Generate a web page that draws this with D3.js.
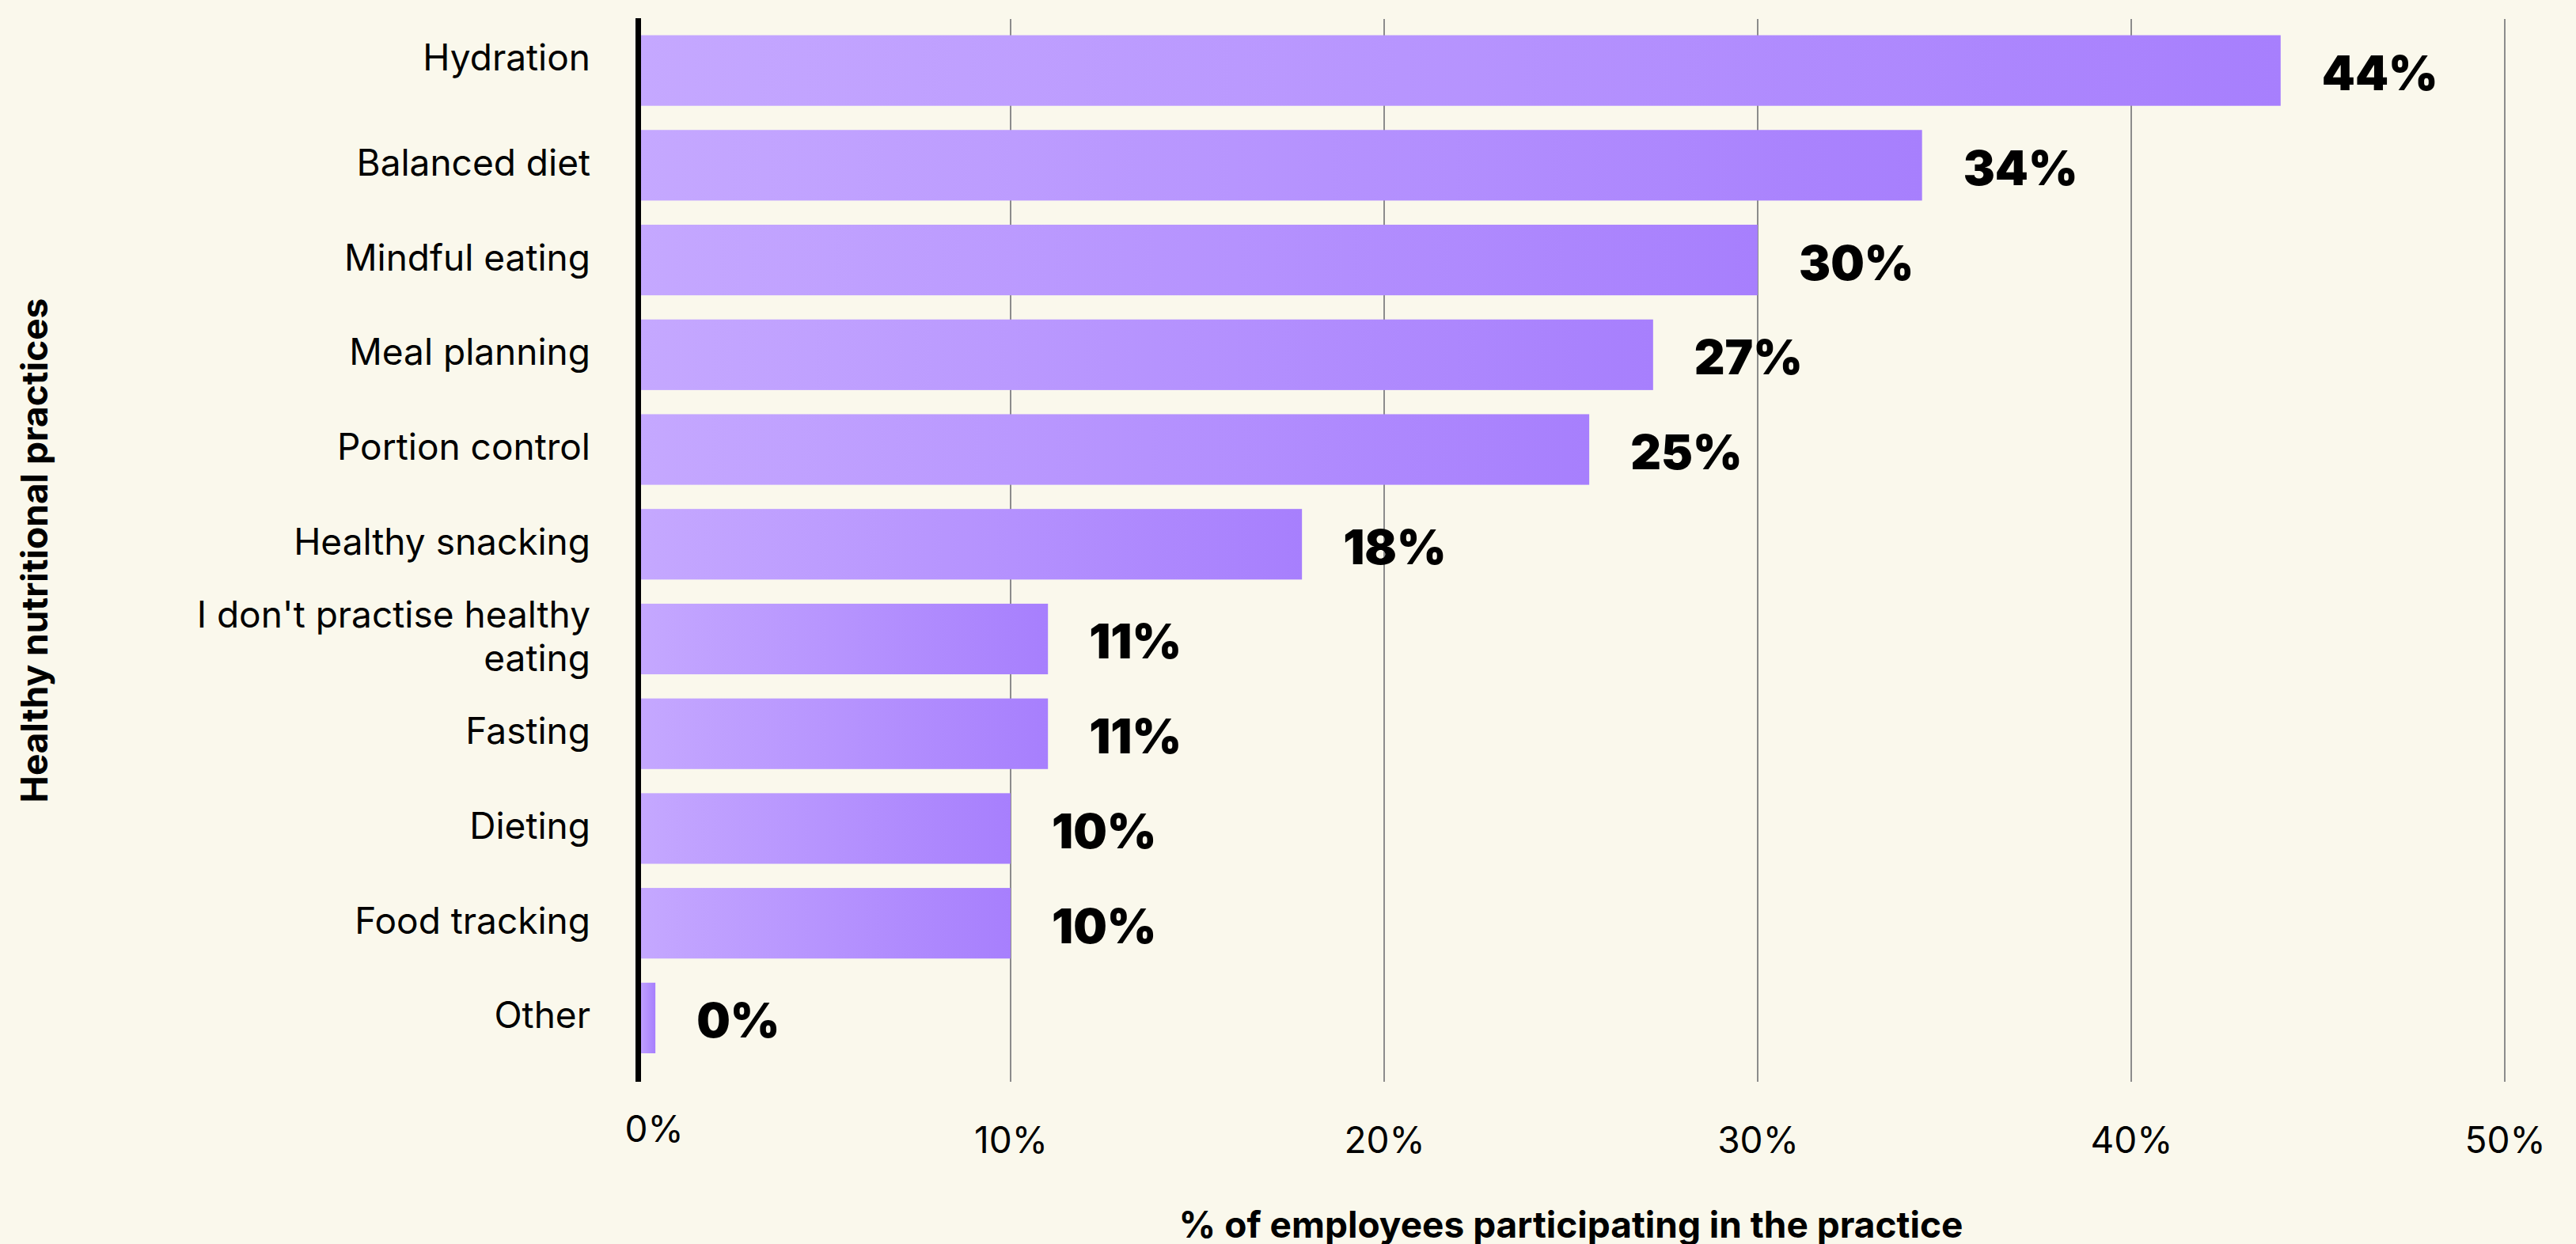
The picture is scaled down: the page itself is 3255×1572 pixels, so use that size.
<!DOCTYPE html>
<html>
<head>
<meta charset="utf-8">
<script src="https://cdn.jsdelivr.net/npm/d3@7"></script>
<style>
  html, body { margin: 0; padding: 0; background: #faf8ec; }
  svg { display: block; }
</style>
</head>
<body>
<svg id="chart" width="3255" height="1572"></svg>
<script>
// Healthy nutritional practices among employees (% participating)
const categories = [
  "Hydration",
  "Balanced diet",
  "Mindful eating",
  "Meal planning",
  "Portion control",
  "Healthy snacking",
  "I don't practise healthy eating",
  "Fasting",
  "Dieting",
  "Food tracking",
  "Other"
];
const values = [44, 34.4, 30, 27.2, 25.49, 17.8, 11, 11, 10, 10, 0.49];
const xTicks = [0, 10, 20, 30, 40, 50];
const xTitle = "% of employees participating in the practice";
const yTitle = "Healthy nutritional practices";

const W = 3255, H = 1572;
const plot = { left: 805, right: 3165, top: 24, bottom: 1367 };

const svg = d3.select("#chart");
svg.append("rect").attr("width", W).attr("height", H).attr("fill", "#faf8ec");

const defs = svg.append("defs");
const grad = defs.append("linearGradient")
  .attr("id", "barFill")
  .attr("x1", "0%").attr("x2", "100%").attr("y1", "0%").attr("y2", "0%");
grad.append("stop").attr("offset", "0%").attr("stop-color", "#c5a8ff");
grad.append("stop").attr("offset", "100%").attr("stop-color", "#a77ffd");

const x = d3.scaleLinear().domain([0, 50]).range([plot.left, plot.right]);
const y = d3.scaleBand()
  .domain(categories)
  .range([44.5, 1331])
  .paddingInner(0.255)
  .paddingOuter(0);

const data = categories.map((c, i) => ({ category: c, value: values[i] }));

// vertical gridlines
svg.append("g")
  .selectAll("line")
  .data(xTicks.filter(t => t > 0))
  .join("line")
  .attr("x1", d => x(d)).attr("x2", d => x(d))
  .attr("y1", plot.top).attr("y2", plot.bottom)
  .attr("stroke", "#8c8c8c")
  .attr("stroke-width", 2);

// bars
svg.append("g")
  .selectAll("rect")
  .data(data)
  .join("rect")
  .attr("x", x(0))
  .attr("y", d => y(d.category))
  .attr("width", d => x(d.value) - x(0))
  .attr("height", y.bandwidth())
  .attr("fill", "url(#barFill)");

// value labels
const fmt = d3.format(".0f");
svg.append("g")
  .selectAll("text")
  .data(data)
  .join("text")
  .attr("x", d => x(d.value) + 52)
  .attr("y", d => y(d.category) + y.bandwidth() / 2 + 25)
  .attr("font-family", "Inter, 'DejaVu Sans', sans-serif")
  .attr("font-weight", 900)
  .attr("font-size", 60)
  .attr("fill", "#000")
  .text(d => fmt(d.value) + "%");

// category axis labels with wrapping
const yAxis = d3.axisLeft(y).tickSize(0).tickPadding(59);
const gy = svg.append("g")
  .attr("transform", `translate(${plot.left},0)`)
  .call(yAxis);
gy.select(".domain").remove();
gy.selectAll("text")
  .attr("font-family", "Inter, sans-serif")
  .attr("font-size", 46)
  .attr("fill", "#000")
  .attr("dy", null)
  .each(function(d, i) {
    const t = d3.select(this);
    const words = d.split(" ");
    const maxW = 560;
    const lines = [];
    let line = [];
    t.text(null);
    const probe = t.append("tspan");
    words.forEach(w => {
      line.push(w);
      probe.text(line.join(" "));
      if (probe.node().getComputedTextLength() > maxW && line.length > 1) {
        line.pop();
        lines.push(line.join(" "));
        line = [w];
      }
    });
    lines.push(line.join(" "));
    probe.remove();
    const lh = 55;
    const shift = i === 0 ? -16 : -3;
    const first = 16 - (lines.length - 1) * lh / 2 + shift;
    lines.forEach((ln, k) => {
      t.append("tspan")
        .attr("x", -59)
        .attr("y", first + k * lh)
        .text(ln);
    });
  });

// bottom axis tick labels
const xAxis = d3.axisBottom(x)
  .tickValues(xTicks)
  .tickFormat(d => d + "%")
  .tickSize(0)
  .tickPadding(57);
const gx = svg.append("g")
  .attr("transform", `translate(0,${plot.bottom})`)
  .call(xAxis);
gx.select(".domain").remove();
gx.selectAll("text")
  .attr("font-family", "Inter, sans-serif")
  .attr("font-size", 46)
  .attr("fill", "#000");
gx.selectAll(".tick").filter(d => d === 0).select("text")
  .attr("dx", 21)
  .attr("y", 43);

// zero baseline
svg.append("line")
  .attr("x1", x(0) + 1.5).attr("x2", x(0) + 1.5)
  .attr("y1", plot.top - 1).attr("y2", plot.bottom)
  .attr("stroke", "#000")
  .attr("stroke-width", 7);

// axis titles
svg.append("text")
  .attr("x", (plot.left + plot.right) / 2)
  .attr("y", 1564)
  .attr("text-anchor", "middle")
  .attr("font-family", "Inter, sans-serif")
  .attr("font-weight", 700)
  .attr("font-size", 46)
  .attr("fill", "#000")
  .text(xTitle);

svg.append("text")
  .attr("transform", `translate(60,${(plot.top + plot.bottom) / 2}) rotate(-90)`)
  .attr("text-anchor", "middle")
  .attr("font-family", "Inter, sans-serif")
  .attr("font-weight", 700)
  .attr("font-size", 46)
  .attr("fill", "#000")
  .text(yTitle);
</script>
</body>
</html>
